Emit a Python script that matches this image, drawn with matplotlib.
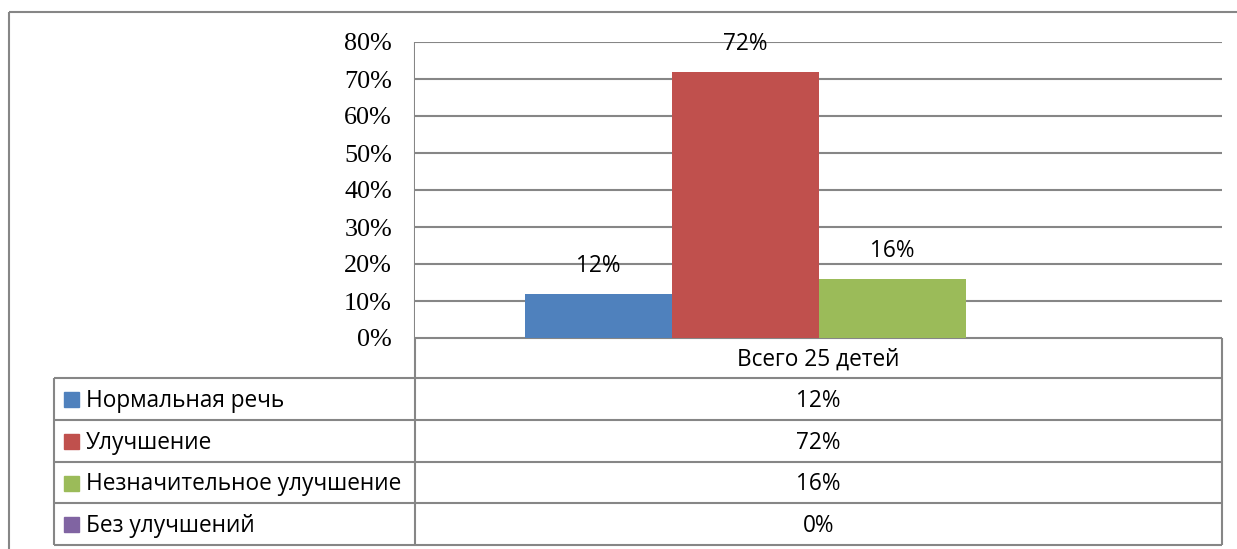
import matplotlib
matplotlib.use("Agg")
import matplotlib.pyplot as plt
from matplotlib.patches import Rectangle

# data
category = "Всего 25 детей"
series = ["Нормальная речь", "Улучшение", "Незначительное улучшение", "Без улучшений"]
values = [0.12, 0.72, 0.16, 0.0]
colors = ["#4F81BD", "#C0504D", "#9BBB59", "#8064A2"]
yticks = [0, 0.1, 0.2, 0.3, 0.4, 0.5, 0.6, 0.7, 0.8]

W, H = 1237, 549
fig = plt.figure(figsize=(W / 100, H / 100), dpi=100)

grid_c = "#868686"
sans = "Open Sans"
serif = "Liberation Serif"
fs = 16.3

# chart area (pixel layout)
x0, x1, ytop, ybot = 415, 1222, 42, 338
ax = fig.add_axes([x0 / W, 1 - ybot / H, (x1 - x0) / W, (ybot - ytop) / H])
ax.set_xlim(-0.5, 0.5)
ax.set_ylim(0, 0.8)

bw = 147 / (x1 - x0)
n = len(series)
for i, (name, v, c) in enumerate(zip(series, values, colors)):
    xc = (i - (n - 1) / 2) * bw
    ax.bar(xc, v, width=bw, color=c, zorder=3)
    if v > 0:
        ax.annotate(f"{v:.0%}", (xc, v), xytext=(0, 20), textcoords="offset points",
                    ha="center", va="center", fontsize=fs, family=sans, color="black")

ax.set_yticks(yticks)
ax.set_yticklabels([f"{t:.0%}" for t in yticks], family=serif, fontsize=18.8)
ax.tick_params(axis="y", length=0, pad=16.5)
ax.set_xticks([])
ax.grid(axis="y", color=grid_c, lw=1.5, zorder=0)
for s in ["top", "right", "bottom", "left"]:
    ax.spines[s].set_visible(False)

# overlay for table + frame in pixel coordinates
ov = fig.add_axes([0, 0, 1, 1], zorder=-1)
ov.set_xlim(0, W)
ov.set_ylim(H, 0)
ov.axis("off")
ov.patch.set_alpha(0)

def hline(y, xa, xb):
    ov.plot([xa, xb], [y, y], color=grid_c, lw=1.5, solid_capstyle="butt")

def vline(x, ya, yb):
    ov.plot([x, x], [ya, yb], color=grid_c, lw=1.5, solid_capstyle="butt")

# outer frame
hline(12, 9, W)
vline(9, 12, H)

rows = [378, 420, 462, 503, 545]
hline(338, x0, x1)
for r in rows:
    hline(r, 54, x1)
vline(x0, ytop, rows[-1])
vline(x1, 338, rows[-1])
vline(54, rows[0], rows[-1])

xm = (x0 + x1) / 2
ov.text(xm, (338 + rows[0]) / 2 + 2, category, ha="center", va="center", fontsize=fs, family=sans)
for i, (name, v, c) in enumerate(zip(series, values, colors)):
    yc = (rows[i] + rows[i + 1]) / 2
    ov.add_patch(Rectangle((64, yc - 7), 15, 15, color=c))
    ov.text(86, yc + 2, name, ha="left", va="center", fontsize=fs, family=sans)
    ov.text(xm, yc + 2, f"{v:.0%}", ha="center", va="center", fontsize=fs, family=sans)

fig.savefig("out.png", dpi=100)
